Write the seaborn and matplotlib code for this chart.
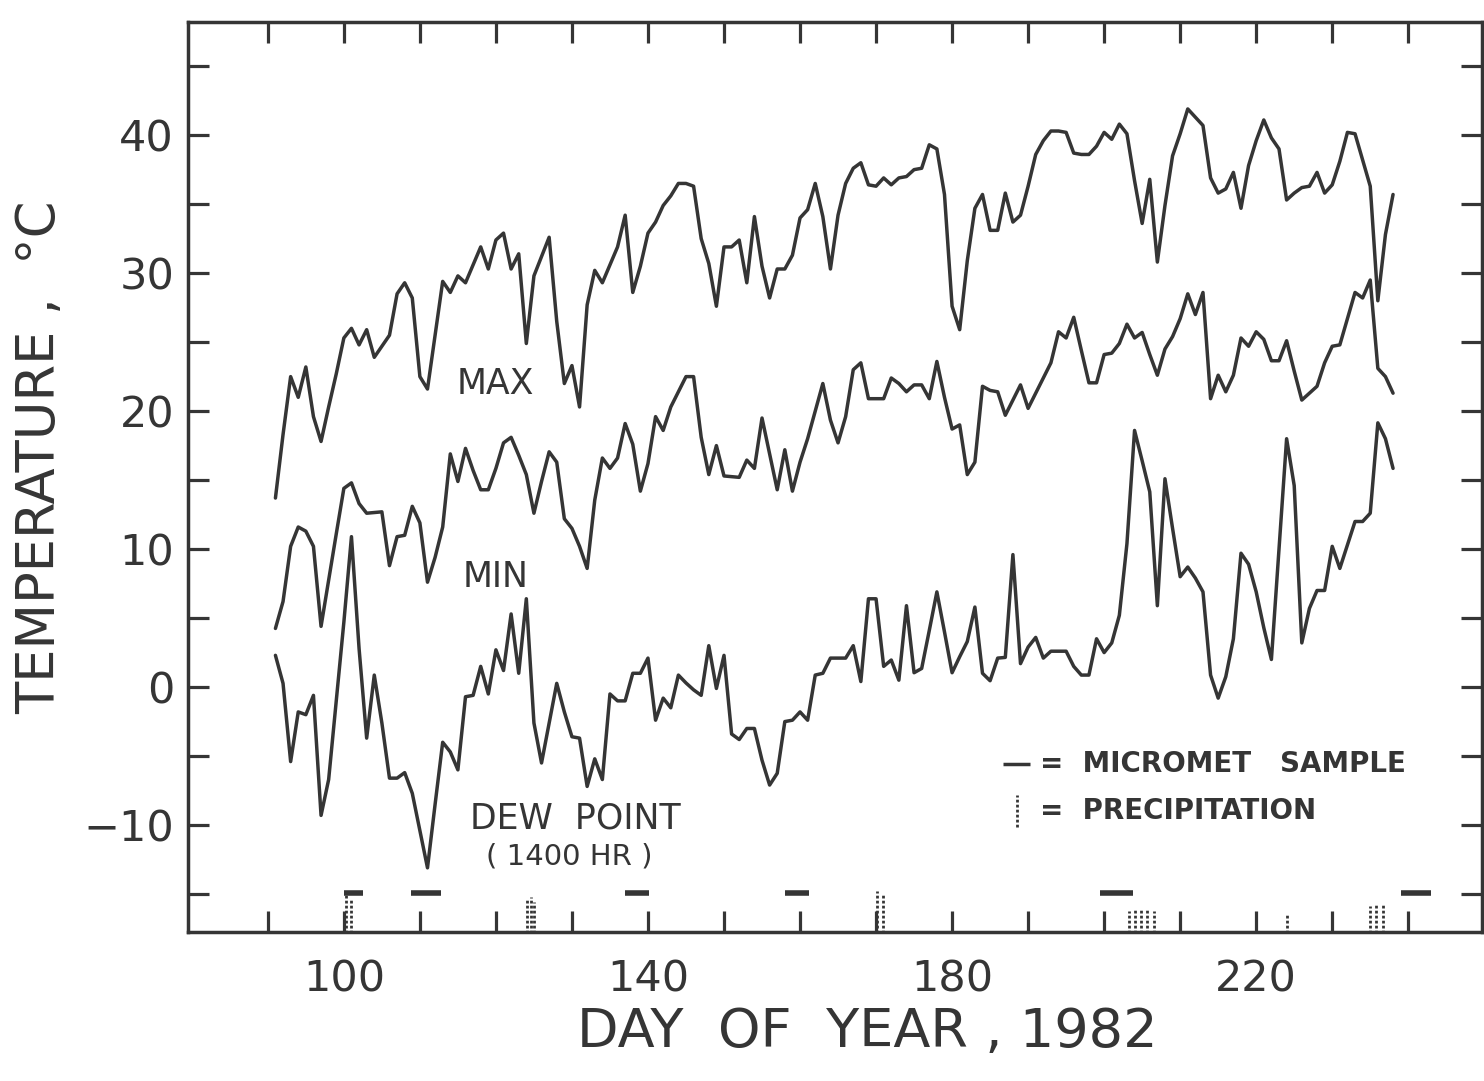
import matplotlib
matplotlib.use("Agg")
import matplotlib.pyplot as plt
import seaborn as sns
import pandas as pd

# ---------------- data ----------------
days = list(range(91, 239))

t_max = [13.7, 18.3, 22.5, 21.0, 23.2, 19.6, 17.8, 20.3, 22.7, 25.3,
         26.0, 24.8, 25.9, 23.9, 24.7, 25.5, 28.5, 29.3, 28.2, 22.5,
         21.6, 25.5, 29.4, 28.6, 29.8, 29.3, 30.6, 31.9, 30.3, 32.4,
         32.9, 30.3, 31.4, 24.9, 29.8, 31.2, 32.6, 26.5, 22.0, 23.3,
         20.3, 27.7, 30.2, 29.3, 30.6, 31.9, 34.2, 28.6, 30.5, 32.9,
         33.7, 34.9, 35.6, 36.5, 36.5, 36.3, 32.5, 30.7, 27.6, 31.9,
         31.9, 32.4, 29.3, 34.1, 30.5, 28.2, 30.3, 30.3, 31.3, 34.0,
         34.6, 36.5, 34.1, 30.3, 34.2, 36.5, 37.6, 38.0, 36.4, 36.3,
         36.9, 36.4, 36.9, 37.0, 37.5, 37.6, 39.3, 39.0, 35.7, 27.6,
         25.9, 30.9, 34.7, 35.7, 33.1, 33.1, 35.8, 33.7, 34.2, 36.3,
         38.6, 39.6, 40.3, 40.3, 40.2, 38.7, 38.6, 38.6, 39.2, 40.2,
         39.7, 40.8, 40.1, 36.7, 33.6, 36.8, 30.8, 34.9, 38.5, 40.1,
         41.9, 41.3, 40.7, 36.9, 35.8, 36.1, 37.3, 34.7, 37.8, 39.6,
         41.1, 39.8, 39.0, 35.3, 35.8, 36.2, 36.3, 37.3, 35.8, 36.4,
         38.1, 40.2, 40.1, 38.2, 36.3, 28.0, 32.8, 35.7]

t_min = [4.25, 6.2, 10.2, 11.6, 11.3, 10.2, 4.4, 7.75, 11.1, 14.4,
         14.8, 13.3, 12.6, 12.65, 12.7, 8.8, 10.9, 11.0, 13.1, 11.9,
         7.6, 9.4, 11.6, 16.9, 14.9, 17.3, 15.7, 14.3, 14.3, 15.85,
         17.7, 18.1, 16.8, 15.4, 12.6, 14.9, 17.05, 16.3, 12.2, 11.5,
         10.2, 8.6, 13.55, 16.6, 15.85, 16.6, 19.1, 17.6, 14.2, 16.2,
         19.6, 18.6, 20.3, 21.4, 22.5, 22.5, 18.1, 15.4, 17.5, 15.3,
         15.25, 15.2, 16.45, 15.85, 19.5, 16.9, 14.3, 17.2, 14.2, 16.3,
         18.0, 20.0, 22.0, 19.35, 17.7, 19.6, 23.0, 23.5, 20.9, 20.9,
         20.9, 22.4, 22.0, 21.4, 21.9, 21.9, 20.9, 23.6, 21.0, 18.7,
         19.0, 15.4, 16.3, 21.8, 21.5, 21.4, 19.7, 20.8, 21.9, 20.2,
         21.3, 22.4, 23.5, 25.75, 25.3, 26.8, 24.4, 22.05, 22.05, 24.1,
         24.2, 24.9, 26.3, 25.3, 25.7, 24.1, 22.6, 24.5, 25.4, 26.7,
         28.5, 27.0, 28.6, 20.9, 22.6, 21.4, 22.6, 25.3, 24.7, 25.75,
         25.2, 23.65, 23.65, 25.1, 22.9, 20.8, 21.3, 21.8, 23.5, 24.7,
         24.8, 26.7, 28.6, 28.2, 29.5, 23.1, 22.5, 21.3]

dew_point = [2.3, 0.27, -5.4, -1.8, -2.0, -0.6, -9.3, -6.7, -1.0, 4.7,
             10.9, 2.8, -3.7, 0.87, -2.6, -6.6, -6.6, -6.2, -7.7, -10.4,
             -13.1, -8.5, -4.0, -4.7, -6.0, -0.7, -0.6, 1.5, -0.5, 2.7,
             1.2, 5.3, 1.0, 6.4, -2.6, -5.5, -2.6, 0.27, -1.8, -3.6,
             -3.7, -7.2, -5.2, -6.7, -0.5, -1.0, -1.0, 1.0, 1.0, 2.1,
             -2.4, -0.8, -1.5, 0.87, 0.3, -0.2, -0.6, 3.0, -0.1, 2.3,
             -3.4, -3.8, -3.0, -3.0, -5.3, -7.1, -6.25, -2.5, -2.4, -1.8,
             -2.4, 0.87, 1.0, 2.1, 2.1, 2.1, 3.0, 0.4, 6.4, 6.4,
             1.5, 1.96, 0.5, 5.9, 1.04, 1.35, 4.1, 6.9, 4.0, 1.04,
             2.2, 3.3, 5.8, 1.0, 0.46, 2.1, 2.15, 9.6, 1.7, 2.9,
             3.6, 2.1, 2.6, 2.6, 2.6, 1.5, 0.87, 0.87, 3.5, 2.5,
             3.2, 5.2, 10.4, 18.6, 16.4, 14.15, 5.9, 15.1, 11.5, 8.0,
             8.7, 7.9, 6.9, 0.87, -0.8, 0.75, 3.5, 9.7, 8.9, 6.9,
             4.3, 2.0, 10.0, 18.0, 14.6, 3.2, 5.7, 7.0, 7.0, 10.2,
             8.6, 10.3, 12.0, 12.0, 12.6, 19.15, 18.0, 15.85]

micromet_start = [100.0, 108.8, 137.0, 158.0, 199.5, 239.0]
micromet_end = [102.5, 112.8, 140.2, 161.2, 203.8, 243.0]
micromet_level = -14.9

precip_days = [100.3, 101.0, 124.1, 124.6, 125.0, 170.1, 170.9,
               203.3, 204.1, 204.9, 205.7, 206.6, 224.1,
               235.0, 235.8, 236.7]
precip_top = [-14.9, -15.3, -15.4, -15.2, -15.6, -14.8, -15.0,
              -16.2, -16.0, -16.0, -16.1, -16.2, -16.5,
              -15.9, -15.7, -15.8]

x_ticks = list(range(90, 241, 10))
x_labeled = [100, 140, 180, 220]
y_ticks = list(range(-15, 46, 5))
y_labeled = [-10, 0, 10, 20, 30, 40]

# ---------------- style ----------------
sns.set_theme(style="ticks")
plt.rcParams["font.family"] = ["DejaVu Sans"]
INK = "#353535"

fig = plt.figure(figsize=(14.84, 10.81), dpi=100)
fig.patch.set_facecolor("white")
ax = fig.add_axes([188 / 1484, 1 - 932 / 1081, (1482 - 188) / 1484, (932 - 22) / 1081])
ax.set_facecolor("white")

df = pd.DataFrame({"day": days, "max": t_max, "min": t_min, "dew": dew_point})
for col in ["max", "min", "dew"]:
    sns.lineplot(data=df, x="day", y=col, ax=ax, color=INK, linewidth=2.5,
                 estimator=None, legend=False)

# micromet sample bars
ax.hlines([micromet_level] * len(micromet_start), micromet_start, micromet_end,
          colors=INK, linewidth=4.0)
# precipitation (dotted verticals)
ax.vlines(precip_days, [-17.8] * len(precip_days), precip_top, colors=INK,
          linewidth=2.0, linestyles=(0, (1.0, 0.8)))

ax.set_xlim(79.5, 249.7)
ax.set_ylim(-17.75, 48.2)

ax.set_xticks(x_ticks)
ax.set_xticklabels([str(t) if t in x_labeled else "" for t in x_ticks])
ax.set_yticks(y_ticks)
ax.set_yticklabels([("\u2212" + str(-t)) if (t in y_labeled and t < 0)
                    else (str(t) if t in y_labeled else "") for t in y_ticks])
ax.tick_params(axis="both", which="major", direction="in", length=15,
               width=2.3, color=INK, labelcolor=INK, labelsize=31,
               top=True, right=True)
ax.tick_params(axis="x", pad=19)
ax.tick_params(axis="y", pad=10)
for sp in ax.spines.values():
    sp.set_linewidth(2.5)
    sp.set_color(INK)
ax.set_xlabel("")
ax.set_ylabel("")

# axis titles
fig.text(867 / 1484, 1 - 1032 / 1081, "DAY  OF  YEAR , 1982", ha="center",
         va="center", fontsize=39, color=INK)
fig.text(40 / 1484, 1 - 457 / 1081, "TEMPERATURE ,  \u00b0C", ha="center",
         va="center", rotation=90, fontsize=38, color=INK)

# series labels
ax.text(119.9, 22.0, "MAX", ha="center", va="center", fontsize=25, color=INK)
ax.text(119.9, 7.95, "MIN", ha="center", va="center", fontsize=25, color=INK)
ax.text(130.5, -9.5, "DEW  POINT", ha="center", va="center", fontsize=25, color=INK)
ax.text(129.7, -12.25, "( 1400 HR )", ha="center", va="center", fontsize=21, color=INK)

# key
key_x0, key_x1, key_y1 = 186.7, 190.2, -5.6
ax.hlines([key_y1], [key_x0], [key_x1], colors=INK, linewidth=2.5)
ax.text(191.6, key_y1, "=  MICROMET   SAMPLE", ha="left", va="center",
        fontsize=20, fontweight="bold", color=INK)
key_px, key_y2 = 188.6, -8.95
ax.vlines([key_px], [key_y2 - 1.2], [key_y2 + 1.1], colors=INK, linewidth=2.0,
          linestyles=(0, (1.0, 0.8)))
ax.text(191.6, key_y2, "=  PRECIPITATION", ha="left", va="center",
        fontsize=20, fontweight="bold", color=INK)

fig.savefig("out.png", dpi=100, facecolor="white")
